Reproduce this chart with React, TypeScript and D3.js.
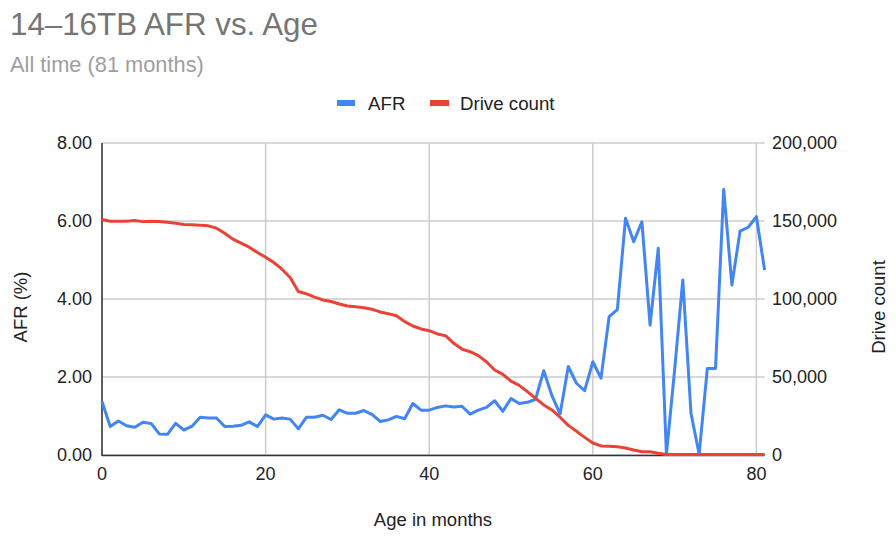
import * as d3 from 'd3'

const months = d3.range(0, 82)

const afr = [
  1.37, 0.73, 0.87, 0.75, 0.71, 0.84, 0.81, 0.54, 0.53, 0.81,
  0.64, 0.74, 0.97, 0.95, 0.95, 0.73, 0.74, 0.76, 0.85, 0.73,
  1.03, 0.92, 0.95, 0.92, 0.67, 0.97, 0.97, 1.02, 0.91, 1.16,
  1.07, 1.07, 1.14, 1.04, 0.86, 0.9, 0.99, 0.93, 1.32, 1.15,
  1.15, 1.22, 1.26, 1.23, 1.25, 1.05, 1.15, 1.22, 1.39, 1.12,
  1.45, 1.32, 1.35, 1.43, 2.16, 1.52, 1.05, 2.27, 1.84, 1.65,
  2.39, 1.97, 3.55, 3.73, 6.07, 5.47, 5.98, 3.33, 5.3, 0.02,
  2.18, 4.49, 1.07, 0.02, 2.22, 2.22, 6.81, 4.36, 5.74, 5.84,
  6.11, 4.74,
]

const driveCount = [
  151000, 149800, 149900, 149900, 150300, 149600, 149800, 149700, 149200, 148500,
  147700, 147600, 147300, 146900, 145400, 142200, 138400, 135800, 133200, 129800,
  126800, 123400, 119100, 113800, 104800, 103300, 101200, 99400, 98400, 96800,
  95500, 95100, 94400, 93400, 91700, 90600, 89300, 85500, 82700, 80800,
  79700, 77600, 76500, 71600, 67900, 66200, 63700, 59800, 54500, 51700,
  47400, 44600, 40600, 36300, 32100, 28900, 24200, 19000, 15200, 11300,
  7700, 5800, 5600, 5300, 4500, 3200, 2100, 2100, 1100, 300,
  300, 300, 300, 300, 300, 300, 300, 300, 300, 300,
  300, 300,
]

const xTicks = [0, 20, 40, 60, 80]
const afrTicks = [0, 2, 4, 6, 8]
const countTicks = [0, 50000, 100000, 150000, 200000]

const W = 896
const H = 537
const left = 102
const right = 764.6
const top = 143
const bottom = 455
const font = '"Liberation Sans", Arial, sans-serif'
const blue = '#4285f4'
const red = '#ea4335'

export default function App() {
  const x = d3.scaleLinear().domain([0, 81]).range([left, right])
  const yL = d3.scaleLinear().domain([0, 8]).range([bottom, top])
  const yR = d3.scaleLinear().domain([0, 200000]).range([bottom, top])

  const afrLine = d3.line<number>()
    .x((_, i) => x(months[i]))
    .y(d => yL(d))
  const countLine = d3.line<number>()
    .x((_, i) => x(months[i]))
    .y(d => yR(d))

  const fmtCount = d3.format(',')
  const midY = 307

  return (
    <svg
      width={W}
      height={H}
      style={{ position: 'absolute', left: 0, top: 0, background: '#fff', fontFamily: font }}
    >
      <rect width={W} height={H} fill="#fff" />
      {/* titles */}
      <text x={10} y={35} fontSize={31.3} fill="#757575">14–16TB AFR vs. Age</text>
      <text x={10} y={72} fontSize={21.8} fill="#9e9e9e">All time (81 months)</text>

      {/* legend */}
      <rect x={337} y={100} width={18} height={6} fill={blue} />
      <text x={368} y={110} fontSize={18.7} fill="#222">AFR</text>
      <rect x={430} y={100} width={19} height={6} fill={red} />
      <text x={460} y={110} fontSize={18.7} fill="#222">Drive count</text>

      {/* gridlines */}
      {afrTicks.map(t => (
        <line key={'h' + t} x1={left} x2={right} y1={yL(t)} y2={yL(t)} stroke="#cccccc" strokeWidth={1.5} />
      ))}
      {xTicks.map(t => (
        <line key={'v' + t} x1={x(t)} x2={x(t)} y1={top} y2={bottom} stroke="#cccccc" strokeWidth={1.5} />
      ))}

      {/* axes lines */}
      <line x1={left} x2={left} y1={top} y2={bottom + 1} stroke="#333" strokeWidth={1.5} />
      <line x1={left} x2={right} y1={bottom + 0.5} y2={bottom + 0.5} stroke="#333" strokeWidth={1.5} />

      {/* series */}
      <path d={afrLine(afr) || ''} fill="none" stroke={blue} strokeWidth={3} strokeLinejoin="round" />
      <path d={countLine(driveCount) || ''} fill="none" stroke={red} strokeWidth={3} strokeLinejoin="round" />

      {/* left ticks */}
      {afrTicks.map(t => (
        <text key={'l' + t} x={92} y={yL(t)} dy="0.36em" textAnchor="end" fontSize={18} fill="#222">
          {t.toFixed(2)}
        </text>
      ))}
      {/* right ticks */}
      {countTicks.map(t => (
        <text key={'r' + t} x={772} y={yR(t)} dy="0.36em" textAnchor="start" fontSize={18} fill="#222">
          {fmtCount(t)}
        </text>
      ))}
      {/* x ticks */}
      {xTicks.map(t => (
        <text key={'x' + t} x={x(t)} y={480} textAnchor="middle" fontSize={18} fill="#222">
          {t}
        </text>
      ))}

      {/* axis titles */}
      <text x={433} y={526} textAnchor="middle" fontSize={18.5} fill="#222">Age in months</text>
      <text
        transform={`translate(27,${midY}) rotate(-90)`}
        textAnchor="middle"
        fontSize={18.5}
        fill="#222"
      >
        AFR (%)
      </text>
      <text
        transform={`translate(885,${midY}) rotate(-90)`}
        textAnchor="middle"
        fontSize={18.5}
        fill="#222"
      >
        Drive count
      </text>
    </svg>
  )
}
